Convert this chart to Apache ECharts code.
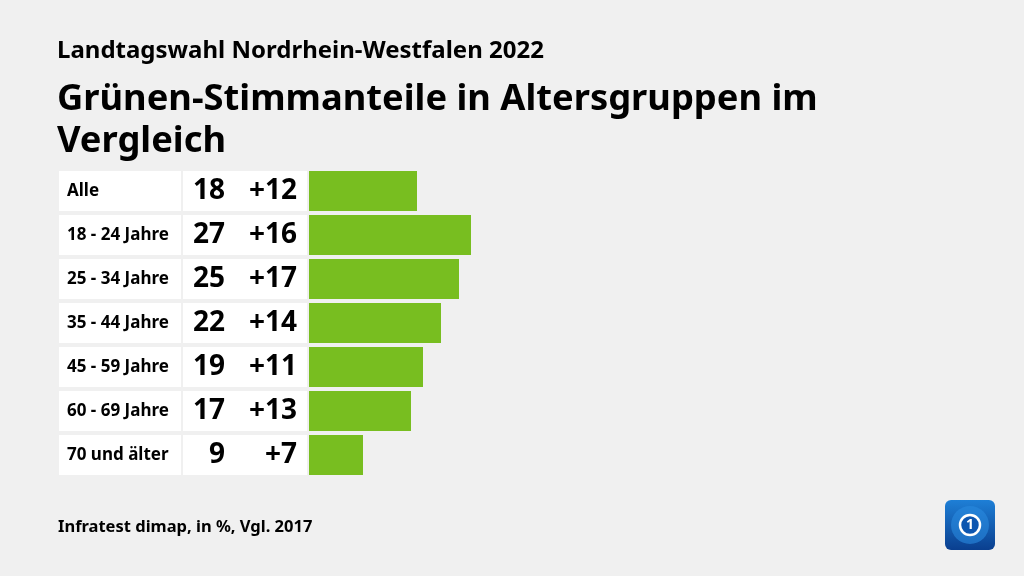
<!DOCTYPE html>
<html><head><meta charset="utf-8">
<script src="https://cdn.jsdelivr.net/npm/echarts@6/dist/echarts.min.js"></script>
<style>html,body{margin:0;background:#f0f0f0}#c{width:1024px;height:576px}</style></head>
<body><div id="c"></div><script>
const categories = ['Alle', '18 - 24 Jahre', '25 - 34 Jahre', '35 - 44 Jahre', '45 - 59 Jahre', '60 - 69 Jahre', '70 und älter'];
const shares = [18, 27, 25, 22, 19, 17, 9];
const changes = ['+12', '+16', '+17', '+14', '+11', '+13', '+7'];
const subtitleText = 'Landtagswahl Nordrhein-Westfalen 2022';
const titleText = 'Grünen-Stimmanteile in Altersgruppen im\nVergleich';
const sourceText = 'Infratest dimap, in %, Vgl. 2017';

const FONT = '"Noto Sans", sans-serif';
const chart = echarts.init(document.getElementById('c'), null, {renderer: 'canvas'});
chart.setOption({
  backgroundColor: '#f0f0f0',
  animation: false,
  textStyle: {fontFamily: FONT},
  title: [
    {text: subtitleText, left: 57, top: 39, padding: 0, textStyle: {fontFamily: FONT, fontSize: 24, fontWeight: 700, color: '#000'}},
    {text: titleText, left: 57, top: 79, padding: 0, textStyle: {fontFamily: FONT, fontSize: 36.3, fontWeight: 700, color: '#000', lineHeight: 42}},
    {text: sourceText, left: 58, top: 519, padding: 0, textStyle: {fontFamily: FONT, fontSize: 16.5, fontWeight: 700, color: '#000'}}
  ],
  grid: {left: 309, right: 115, top: 169, height: 308},
  xAxis: {type: 'value', min: 0, max: 100, show: false},
  yAxis: {
    type: 'category', data: categories, inverse: true,
    axisLine: {show: false}, axisTick: {show: false},
    axisLabel: {
      margin: 2,
      formatter: (v, i) => `{a|${v}}{s|}{b|${shares[i]}}{c|${changes[i]}}`,
      rich: {
        a: {width: 114, height: 40, padding: [0, 0, 0, 8], align: 'left', backgroundColor: '#fff', fontFamily: FONT, fontSize: 17, fontWeight: 700, color: '#000'},
        s: {width: 2, height: 40, align: 'left'},
        b: {width: 42, height: 40, padding: [0, 12, 0, 0], align: 'right', backgroundColor: '#fff', fontFamily: FONT, fontSize: 28, fontWeight: 700, color: '#000'},
        c: {width: 60, height: 40, padding: [0, 10, 0, 0], align: 'right', backgroundColor: '#fff', fontFamily: FONT, fontSize: 28, fontWeight: 700, color: '#000'}
      }
    }
  },
  series: [{
    type: 'bar', data: shares, barWidth: 40,
    itemStyle: {color: '#78be20'}
  }],
  graphic: [{
    type: 'group', left: 945, top: 500,
    children: [
      {type: 'rect', shape: {x: 0, y: 0, width: 50, height: 50, r: 6},
        style: {fill: new echarts.graphic.LinearGradient(0, 0, 0, 1, [{offset: 0, color: '#1e7fd6'}, {offset: 1, color: '#0a3f8f'}])}},
      {type: 'circle', shape: {cx: 25, cy: 25, r: 19}, style: {fill: '#2a8be0', opacity: 0.6}},
      {type: 'circle', shape: {cx: 25, cy: 25, r: 10}, style: {fill: '#0d56b0', stroke: '#fff', lineWidth: 2.5}},
      {type: 'text', style: {text: '1', x: 25, y: 25, align: 'center', verticalAlign: 'middle', fill: '#fff', font: 'bold 14px "Noto Sans"'}}
    ]
  }]
});
</script></body></html>
